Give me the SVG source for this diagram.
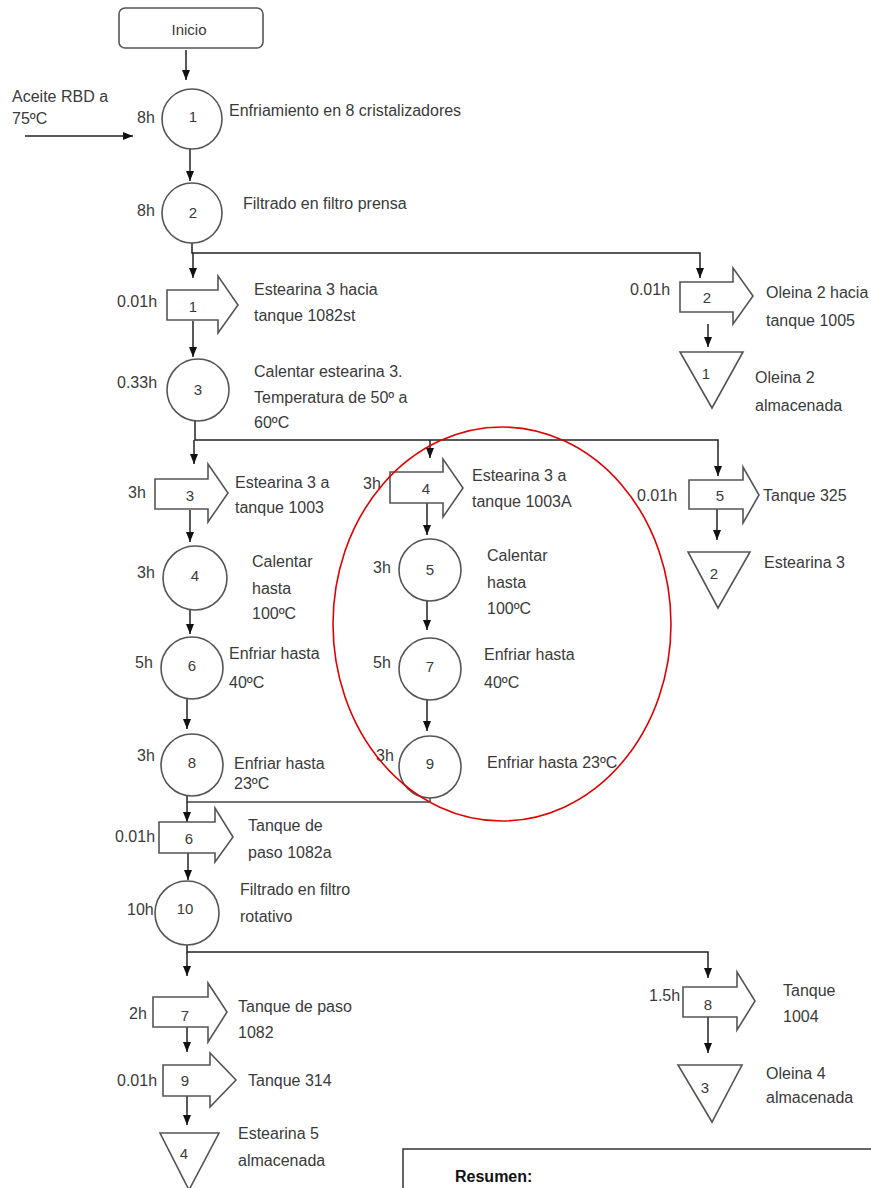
<svg xmlns="http://www.w3.org/2000/svg" width="871" height="1188" viewBox="0 0 871 1188">
<defs>
<marker id="ah" markerUnits="userSpaceOnUse" markerWidth="10" markerHeight="10" viewBox="0 0 10 10" refX="10" refY="5" orient="auto">
<path d="M0,1 L10,5 L0,9 Z" fill="#111"/>
</marker>
</defs>
<style>
text{font-family:"Liberation Sans",Arial,sans-serif;font-size:16px;fill:#3a3a3a;dominant-baseline:central}
.n{text-anchor:middle;font-size:15px}
.shp{fill:#fff;stroke:#555;stroke-width:1.6}
.c{fill:none;stroke:#444;stroke-width:1.5}
.a{fill:none;stroke:#222;stroke-width:1.5;marker-end:url(#ah)}
</style>
<rect width="871" height="1188" fill="#fff"/>

<g id="connectors">
<path class="a" d="M186,50 V80"/>
<path class="a" d="M25,136 H133"/>
<path class="a" d="M190,149 V181"/>
<path class="a" d="M192,243 V253 H700 V278"/>
<path class="a" d="M193,253 V278"/>
<path class="a" d="M193,321 V357"/>
<path class="a" d="M708,324 V347"/>
<path class="a" d="M195,421 V440 H718 V476"/>
<path class="a" d="M194,440 V464"/>
<path class="a" d="M430,440 V458"/>
<path class="a" d="M190,510 V542"/>
<path class="a" d="M427,503 V535"/>
<path class="a" d="M717,509 V540"/>
<path class="a" d="M190,610 V634"/>
<path class="a" d="M427,601 V630"/>
<path class="a" d="M187,699 V729"/>
<path class="a" d="M427,700 V731"/>
<path class="c" d="M430,798 V802 H187"/>
<path class="a" d="M187,796 V822"/>
<path class="a" d="M188,853 V880"/>
<path class="a" d="M187,945 V952 H708 V978"/>
<path class="a" d="M187,952 V976"/>
<path class="a" d="M187,1027 V1052"/>
<path class="a" d="M708,1017 V1053"/>
<path class="a" d="M187,1096 V1125"/>
</g>

<g id="inicio">
<rect class="shp" x="119" y="8" width="144" height="40" rx="6"/>
<text x="189" y="29" class="n" style="font-size:15px">Inicio</text>
</g>
<g id="aceite">
<text x="12" y="96">Aceite RBD a</text>
<text x="12" y="118">75ºC</text>
</g>

<g id="op1">
<circle class="shp" cx="192" cy="119" r="30"/>
<text class="n" x="193" y="116">1</text>
<text x="137" y="117">8h</text>
<text x="229" y="110">Enfriamiento en 8 cristalizadores</text>
</g>
<g id="op2">
<circle class="shp" cx="192" cy="213" r="30"/>
<text class="n" x="193" y="212">2</text>
<text x="137" y="210">8h</text>
<text x="243" y="203">Filtrado en filtro prensa</text>
</g>
<g id="tr1">
<path class="shp" d="M167,290 H218 V276 L238,305 L218,333 V320 H167 Z"/>
<text class="n" x="193" y="306">1</text>
<text x="117" y="301">0.01h</text>
<text x="254" y="289">Estearina 3 hacia</text>
<text x="254" y="315">tanque 1082st</text>
</g>
<g id="tr2">
<path class="shp" d="M680,282 H733 V268 L753,296 L733,324 V312 H680 Z"/>
<text class="n" x="707" y="297">2</text>
<text x="630" y="289">0.01h</text>
<text x="766" y="292">Oleina 2 hacia</text>
<text x="766" y="320">tanque 1005</text>
</g>
<g id="st1">
<path class="shp" d="M680,352 H743 L712,408 Z"/>
<text class="n" x="706" y="373">1</text>
<text x="755" y="377">Oleina 2</text>
<text x="755" y="405">almacenada</text>
</g>
<g id="op3">
<circle class="shp" cx="198" cy="390" r="31"/>
<text class="n" x="198" y="389">3</text>
<text x="117" y="382">0.33h</text>
<text x="254" y="371">Calentar estearina 3.</text>
<text x="254" y="397">Temperatura de 50º a</text>
<text x="254" y="422">60ºC</text>
</g>
<g id="tr3">
<path class="shp" d="M155,479 H208 V464 L228,493 L208,522 V509 H155 Z"/>
<text class="n" x="190" y="495">3</text>
<text x="128" y="492">3h</text>
<text x="235" y="482">Estearina 3 a</text>
<text x="235" y="507">tanque 1003</text>
</g>
<g id="tr4">
<path class="shp" d="M390,472 H443 V459 L463,488 L443,517 V503 H390 Z"/>
<text class="n" x="426" y="488">4</text>
<text x="363" y="483">3h</text>
<text x="472" y="475">Estearina 3 a</text>
<text x="472" y="501">tanque 1003A</text>
</g>
<g id="tr5">
<path class="shp" d="M689,480 H743 V467 L759,495 L743,523 V509 H689 Z"/>
<text class="n" x="720" y="495">5</text>
<text x="637" y="495">0.01h</text>
<text x="763" y="495">Tanque 325</text>
</g>
<g id="st2">
<path class="shp" d="M688,552 H750 L718,608 Z"/>
<text class="n" x="714" y="573">2</text>
<text x="764" y="562">Estearina 3</text>
</g>
<g id="op4">
<circle class="shp" cx="195" cy="578" r="32"/>
<text class="n" x="195" y="575">4</text>
<text x="137" y="572">3h</text>
<text x="252" y="561">Calentar</text>
<text x="252" y="588">hasta</text>
<text x="252" y="613">100ºC</text>
</g>
<g id="op5">
<circle class="shp" cx="430" cy="570" r="31"/>
<text class="n" x="430" y="569">5</text>
<text x="373" y="567">3h</text>
<text x="487" y="555">Calentar</text>
<text x="487" y="582">hasta</text>
<text x="487" y="608">100ºC</text>
</g>
<g id="op6">
<circle class="shp" cx="192" cy="668" r="31"/>
<text class="n" x="192" y="665">6</text>
<text x="135" y="662">5h</text>
<text x="229" y="653">Enfriar hasta</text>
<text x="229" y="682">40ºC</text>
</g>
<g id="op7">
<circle class="shp" cx="430" cy="669" r="31"/>
<text class="n" x="430" y="666">7</text>
<text x="373" y="662">5h</text>
<text x="484" y="654">Enfriar hasta</text>
<text x="484" y="682">40ºC</text>
</g>
<g id="op8">
<circle class="shp" cx="192" cy="765" r="31"/>
<text class="n" x="192" y="762">8</text>
<text x="137" y="755">3h</text>
<text x="234" y="763">Enfriar hasta</text>
<text x="234" y="783">23ºC</text>
</g>
<g id="op9">
<circle class="shp" cx="430" cy="767" r="31"/>
<text class="n" x="430" y="763">9</text>
<text x="376" y="755">3h</text>
<text x="487" y="762">Enfriar hasta 23ºC</text>
</g>
<g id="tr6">
<path class="shp" d="M159,822 H215 V808 L233,837 L215,862 V853 H159 Z"/>
<text class="n" x="189" y="838">6</text>
<text x="115" y="836">0.01h</text>
<text x="248" y="825">Tanque de</text>
<text x="248" y="852">paso 1082a</text>
</g>
<g id="op10">
<circle class="shp" cx="187" cy="913" r="32"/>
<text class="n" x="185" y="908">10</text>
<text x="127" y="909">10h</text>
<text x="240" y="889">Filtrado en filtro</text>
<text x="240" y="916">rotativo</text>
</g>
<g id="tr7">
<path class="shp" d="M153,997 H208 V983 L227,1012 L208,1042 V1027 H153 Z"/>
<text class="n" x="185" y="1015">7</text>
<text x="129" y="1013">2h</text>
<text x="238" y="1006">Tanque de paso</text>
<text x="238" y="1032">1082</text>
</g>
<g id="tr8">
<path class="shp" d="M683,987 H737 V972 L755,1001 L737,1030 V1017 H683 Z"/>
<text class="n" x="708" y="1004">8</text>
<text x="649" y="995">1.5h</text>
<text x="783" y="990">Tanque</text>
<text x="783" y="1016">1004</text>
</g>
<g id="st3">
<path class="shp" d="M678,1065 H742 L712,1122 Z"/>
<text class="n" x="705" y="1087">3</text>
<text x="766" y="1073">Oleina 4</text>
<text x="766" y="1097">almacenada</text>
</g>
<g id="tr9">
<path class="shp" d="M163,1065 H210 V1053 L236,1080 L210,1107 V1096 H163 Z"/>
<text class="n" x="185" y="1080">9</text>
<text x="117" y="1080">0.01h</text>
<text x="248" y="1080">Tanque 314</text>
</g>
<g id="st4">
<path class="shp" d="M160,1133 H219 L189,1190 Z"/>
<text class="n" x="184" y="1153">4</text>
<text x="238" y="1133">Estearina 5</text>
<text x="238" y="1160">almacenada</text>
</g>
<g id="resumen">
<rect x="403" y="1149" width="480" height="60" fill="#fff" stroke="#333" stroke-width="1.5"/>
<text x="455" y="1176" style="font-weight:bold;fill:#111;font-size:16px">Resumen:</text>
</g>
<g id="highlight">
<ellipse cx="502" cy="624" rx="169" ry="197" fill="none" stroke="#e00000" stroke-width="1.6"/>
</g>
</svg>
